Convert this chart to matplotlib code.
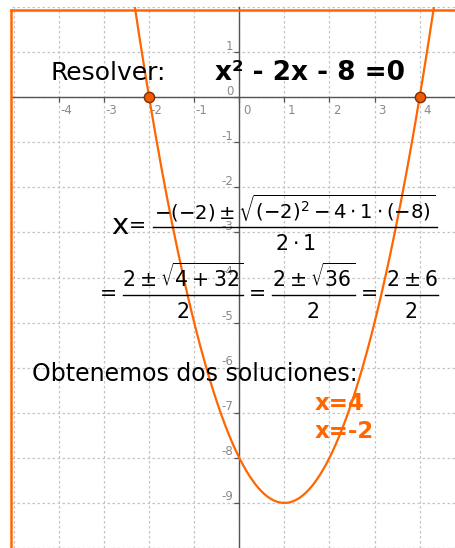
import numpy as np
import matplotlib

matplotlib.use("Agg")
import matplotlib.pyplot as plt
from matplotlib.lines import Line2D

plt.rcParams["font.family"] = ["DejaVu Sans"]
plt.rcParams["mathtext.fontset"] = "dejavusans"
plt.rcParams["mathtext.default"] = "regular"

# data: y = x^2 - 2x - 8, its roots, and the axis ticks
coefs = [1, -2, -8]
roots = [-2, 4]
x_ticks = [-4, -3, -2, -1, 0, 1, 2, 3, 4]
y_ticks = [-9, -8, -7, -6, -5, -4, -3, -2, -1, 0, 1]
x_grid = [-5, -4, -3, -2, -1, 0, 1, 2, 3, 4]
y_grid = [-10, -9, -8, -7, -6, -5, -4, -3, -2, -1, 0, 1, 2]
solutions = ["x=4", "x=-2"]

ORANGE = "#ff6600"
W, H = 455, 548


def fx(px):
    # horizontal screen position -> figure fraction
    return px / W


def fy(py):
    # vertical screen position (from top) -> figure fraction
    return 1 - py / H


fig = plt.figure(figsize=(W / 100, H / 100), dpi=100)
ax = fig.add_axes([12 / W, 0, 1 - 12 / W, 1 - 7 / H])
ax.set_xlim(-5.042, 4.785)
ax.set_ylim(-10.0, 2.003)

for gx in x_grid:
    ax.axvline(gx, color="#c4c4c4", lw=0.9, ls=(0, (2, 2)), zorder=1)
for gy in y_grid:
    ax.axhline(gy, color="#c4c4c4", lw=0.9, ls=(0, (2, 2)), zorder=1)

# axes through the origin
for side in ["top", "right"]:
    ax.spines[side].set_visible(False)
ax.spines["left"].set_position(("data", 0))
ax.spines["bottom"].set_position(("data", 0))
for side in ["left", "bottom"]:
    ax.spines[side].set_color("#555555")
    ax.spines[side].set_linewidth(1.0)
    ax.spines[side].set_zorder(2)
ax.set_xticks(x_ticks)
ax.set_yticks(y_ticks)
ax.tick_params(direction="out", length=3.5, width=0.9, color="#555555", labelbottom=False, labelleft=False)

for tx in x_ticks:
    ax.text(tx + 0.166, -0.29, f"{tx}", ha="center", va="center",
            fontsize=8.5, color="#8a8a8a", zorder=3)
for ty in y_ticks:
    ax.text(-0.133, ty + 0.133, f"{ty}", ha="right", va="center",
            fontsize=8.5, color="#8a8a8a", zorder=3)

xs = np.linspace(-5.1, 4.9, 600)
ax.plot(xs, np.polyval(coefs, xs), color=ORANGE, lw=1.6, zorder=4)
ax.scatter(roots, np.polyval(coefs, roots), s=55, color="#f05a00", edgecolor="#7a3000",
           linewidth=1.0, zorder=5)

# orange frame (top and left)
fig.add_artist(Line2D([fx(11), 1], [fy(10), fy(10)], transform=fig.transFigure, color=ORANGE, lw=1.8))
fig.add_artist(Line2D([fx(11), fx(11)], [0, fy(10)], transform=fig.transFigure, color=ORANGE, lw=1.8))

fig.text(fx(50.5), fy(80), "Resolver:", fontsize=18, va="baseline", ha="left")
fig.text(fx(215), fy(80), "x² - 2x - 8 =0", fontsize=19, fontweight="bold", va="baseline", ha="left")

MATH = 14.8


def fraction(num, den, left, right, bar_y, size=MATH):
    cx = fx((left + right) / 2)
    fig.text(cx, fy(bar_y - 8), num, fontsize=size, ha="center", va="baseline")
    fig.text(cx, fy(bar_y + 23.5), den, fontsize=MATH, ha="center", va="baseline")
    fig.add_artist(Line2D([fx(left), fx(right)], [fy(bar_y), fy(bar_y)],
                          transform=fig.transFigure, color="black", lw=1.0))


def equals(cx, bar_y):
    fig.text(fx(cx), fy(bar_y + 6), "=", fontsize=MATH, ha="center", va="baseline")


# quadratic formula
fig.text(fx(111), fy(233.5), "x", fontsize=21, va="baseline", ha="left")
equals(137, 226)
fraction(r"$-(-2)\pm\sqrt{(-2)^2-4\cdot1\cdot(-8)}$", r"$2\cdot1$", 153, 437, 227, size=14.1)

equals(108, 294.5)
fraction(r"$2\pm\sqrt{4+32}$", "2", 123, 243, 294.5)
equals(257.5, 294.5)
fraction(r"$2\pm\sqrt{36}$", "2", 272, 355, 294.5)
equals(369.5, 294.5)
fraction(r"$2\pm6$", "2", 385, 438, 294.5)

fig.text(fx(31.5), fy(380.7), "Obtenemos dos soluciones:", fontsize=17, va="baseline", ha="left")
fig.text(fx(315), fy(410), solutions[0], fontsize=16.5, fontweight="bold", color=ORANGE,
         va="baseline", ha="left")
fig.text(fx(315), fy(438), solutions[1], fontsize=16.5, fontweight="bold", color=ORANGE,
         va="baseline", ha="left")

fig.savefig("out.png", dpi=100)
